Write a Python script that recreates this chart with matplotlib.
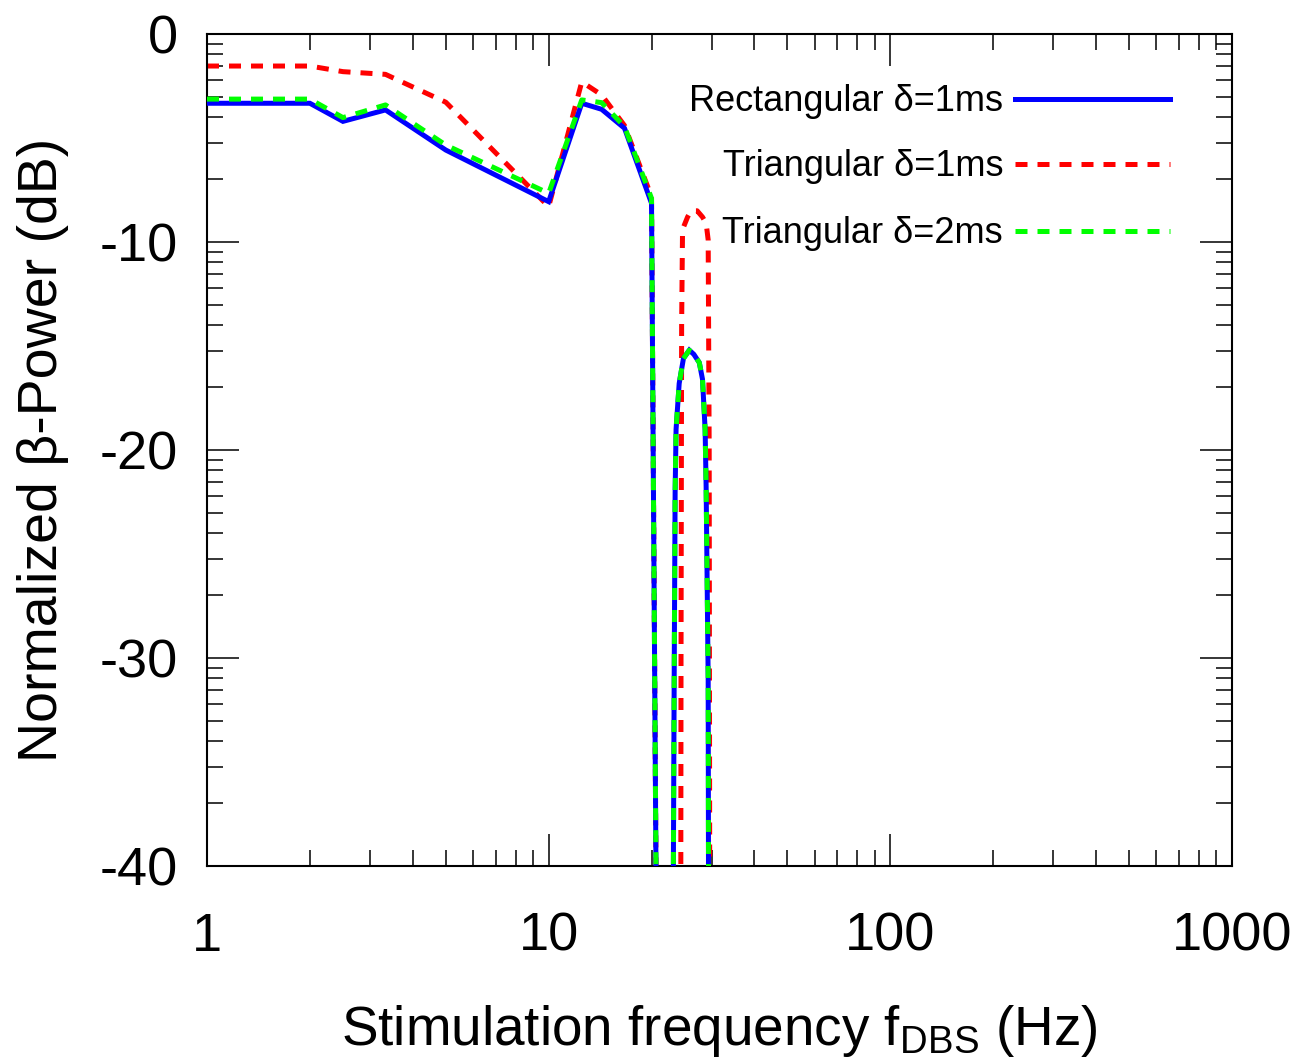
import numpy as np
import matplotlib
matplotlib.use("Agg")
import matplotlib.pyplot as plt
from matplotlib.lines import Line2D
from matplotlib.ticker import FixedLocator, NullFormatter

plt.rcParams["font.family"] = ["Liberation Sans", "DejaVu Sans"]
plt.rcParams["mathtext.fontset"] = "custom"
plt.rcParams["mathtext.rm"] = "Liberation Sans"
plt.rcParams["mathtext.it"] = "Liberation Sans:italic"
plt.rcParams["axes.unicode_minus"] = False

# Stimulation frequencies (Hz) and normalized beta power (dB); -60 marks "no power" (off scale)
freq_rect = [1, 2, 2.5, 3.33, 5, 10, 12.5, 14.29, 16.67, 20, 21.0, 22.9, 23.3, 23.45,
             23.6, 24.1, 24.8, 25.8, 26.6, 27.6, 28.2, 28.7, 28.9, 29.3, 29.5]
power_rect_1ms = [-3.33, -3.33, -4.2, -3.65, -5.58, -8.06, -3.33, -3.62, -4.53, -8.14,
                  -60, -60, -31, -22, -19, -16.8, -15.6, -15.2, -15.4, -15.8, -16.6,
                  -19, -21.8, -31, -60]

freq_tri_1ms = [1, 2, 2.5, 3.33, 5, 10, 12.5, 14.29, 16.67, 20, 21.0, 24.3, 24.4, 24.5,
                24.65, 25.5, 26.1, 27.2, 28.2, 28.9, 29.3, 29.5, 29.7]
power_tri_1ms = [-1.54, -1.54, -1.81, -1.94, -3.28, -8.3, -2.3, -2.93, -4.4, -7.82,
                 -60, -60, -30, -14, -9.4, -8.8, -8.5, -8.5, -8.8, -9.1, -9.9, -20, -60]

freq_tri_2ms = freq_rect
power_tri_2ms = [-3.13, -3.13, -4.02, -3.41, -5.34, -7.66, -3.17, -3.3, -4.45, -7.9,
                 -60, -60, -31, -22, -19, -16.8, -15.6, -15.2, -15.4, -15.8, -16.6,
                 -19, -21.8, -31, -60]

series_labels = ["Rectangular δ=1ms", "Triangular δ=1ms", "Triangular δ=2ms"]
series_colors = ["#0000ff", "#ff0000", "#00ff00"]

x_ticks = [1, 10, 100, 1000]
x_tick_labels = ["1", "10", "100", "1000"]
y_ticks = [0, -10, -20, -30, -40]
y_tick_labels = ["0", "-10", "-20", "-30", "-40"]

fig = plt.figure(figsize=(13.09, 10.61), dpi=100)
ax = fig.add_axes([207 / 1309, 1 - 866 / 1061, 1025 / 1309, 832 / 1061])

lw = 3.6
dash = (2.4, 2.0)
styles = [dict(linestyle="-"), dict(linestyle=(0, dash)), dict(linestyle=(0, dash))]
data = [(freq_rect, power_rect_1ms), (freq_tri_1ms, power_tri_1ms), (freq_tri_2ms, power_tri_2ms)]
# the 1 ms triangular curve sits underneath the rectangular one
zorders = [3, 2, 4]

for (f, p), c, st, z in zip(data, series_colors, styles, zorders):
    ax.plot(f, p, color=c, lw=lw, zorder=z, solid_joinstyle="miter",
            dash_capstyle="butt", **st)

ax.set_xscale("log")
ax.set_xlim(1, 1000)
ax.set_ylim(-40, 0)

ax.xaxis.set_major_locator(FixedLocator(x_ticks))
ax.set_xticklabels(x_tick_labels)
ax.xaxis.set_minor_locator(FixedLocator(
    [m * k for m in (1, 10, 100) for k in range(2, 10)]))
ax.xaxis.set_minor_formatter(NullFormatter())

ax.yaxis.set_major_locator(FixedLocator(y_ticks))
ax.set_yticklabels(y_tick_labels)
ax.yaxis.set_minor_locator(FixedLocator(
    [m + 10 * np.log10(k) for m in (-40, -30, -20, -10) for k in range(2, 10)]))

ax.tick_params(which="both", direction="in", top=True, right=True, width=1.1,
               color="black")
ax.tick_params(which="major", length=23)
ax.tick_params(which="minor", length=11.5)
ax.tick_params(axis="x", which="major", pad=33, labelsize=39)
ax.tick_params(axis="y", which="major", pad=21, labelsize=39)
for s in ax.spines.values():
    s.set_linewidth(1.5)

ax.set_xlabel(r"Stimulation frequency f$_{\mathregular{DBS}}$ (Hz)", fontsize=39.5)
ax.set_ylabel("Normalized β-Power (dB)", fontsize=40)
ax.xaxis.set_label_coords(0.5, -0.165)
ax.yaxis.set_label_coords(-0.135, 0.5)

# key: right-aligned text followed by a line sample
key_rows = [0.9219, 0.8438, 0.7632]
for lab, c, st, yk in zip(series_labels, series_colors, styles, key_rows):
    ax.text(0.7766, yk - 0.015, lab, transform=ax.transAxes, ha="right",
            va="baseline", fontsize=26)
    ax.add_line(Line2D([0.788, 0.9395], [yk, yk], transform=ax.transAxes,
                       color=c, lw=lw, dash_capstyle="butt", zorder=6, **st))

fig.savefig("out.png", dpi=100)
